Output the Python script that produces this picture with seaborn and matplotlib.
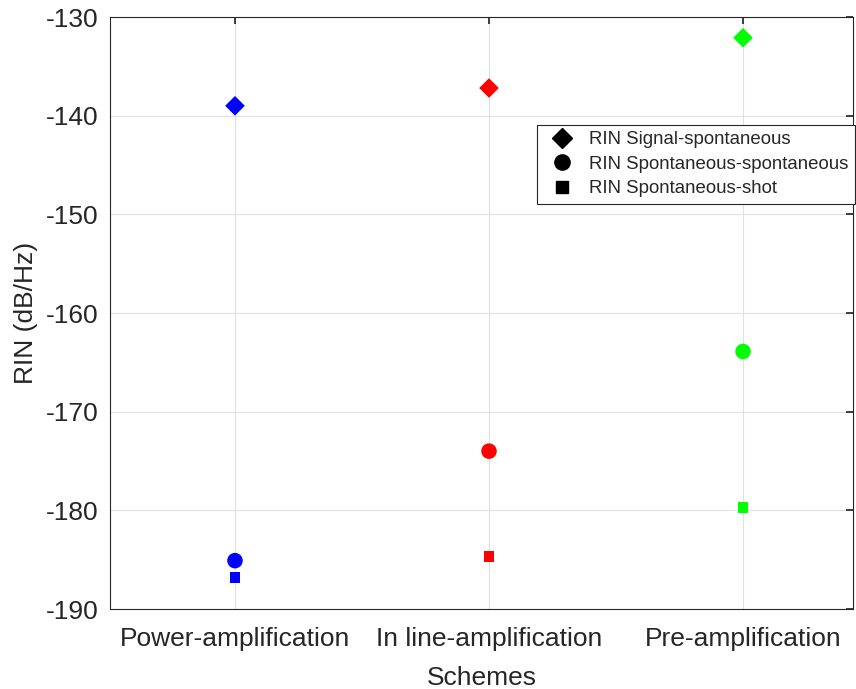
import matplotlib
matplotlib.use("Agg")
import matplotlib.pyplot as plt
import seaborn as sns
import pandas as pd
from matplotlib.lines import Line2D

schemes = ["Power-amplification", "In line-amplification", "Pre-amplification"]
scheme_colors = ["#0000FF", "#FF0000", "#00FF00"]
rin_signal_spont = [-139.0, -137.2, -132.1]
rin_spont_spont = [-185.1, -174.0, -163.9]
rin_spont_shot = [-186.8, -184.7, -179.7]
series_names = ["RIN Signal-spontaneous", "RIN Spontaneous-spontaneous", "RIN Spontaneous-shot"]

sns.set_theme(style="white")
plt.rcParams["font.family"] = ["Liberation Sans", "DejaVu Sans"]
plt.rcParams["axes.unicode_minus"] = False

fig = plt.figure(figsize=(8.56, 6.89), dpi=100)
ax = fig.add_axes([110/856, 1 - 609/689, (853-110)/856, (609-17)/689])

series_vals = [rin_signal_spont, rin_spont_spont, rin_spont_shot]
markers = ["D", "o", "s"]
sizes = [100, 125, 62]

for name, vals, mk, sz in zip(series_names, series_vals, markers, sizes):
    df = pd.DataFrame({"Scheme": schemes, "RIN": vals})
    sns.scatterplot(data=df, x="Scheme", y="RIN", hue="Scheme", palette=scheme_colors,
                    marker=mk, s=sz, linewidth=0, legend=False, ax=ax, zorder=3)

ax.set_xlim(-0.492, 2.433)
ax.set_ylim(-190, -130)
ax.set_yticks(range(-190, -129, 10))
ax.grid(True, color="#e0e0e0", linewidth=0.8)
ax.set_axisbelow(True)
for s in ax.spines.values():
    s.set_color("#262626")
    s.set_linewidth(0.8)
ax.tick_params(axis="both", direction="in", top=True, right=True, length=5,
               labelsize=19, colors="#262626")
ax.tick_params(axis="x", pad=13)
ax.tick_params(axis="y", pad=8)
ax.set_xlabel("Schemes", fontsize=19, color="#262626", labelpad=11)
ax.set_ylabel("RIN (dB/Hz)", fontsize=19, color="#262626", labelpad=6)

handles = [Line2D([], [], linestyle="none", marker=m, color="black", markersize=ms)
           for m, ms in zip(markers, [10, 11, 8])]
leg = ax.legend(handles, series_names, loc="upper right", bbox_to_anchor=(1.003, 0.818),
                fontsize=13.4, frameon=True, fancybox=False, framealpha=1,
                edgecolor="#262626", borderpad=0.35, labelspacing=0.4,
                handletextpad=0.45, handlelength=2.0, borderaxespad=0)
leg.get_frame().set_linewidth(0.8)
for t in leg.get_texts():
    t.set_color("#262626")

fig.savefig("out.png", dpi=100)
